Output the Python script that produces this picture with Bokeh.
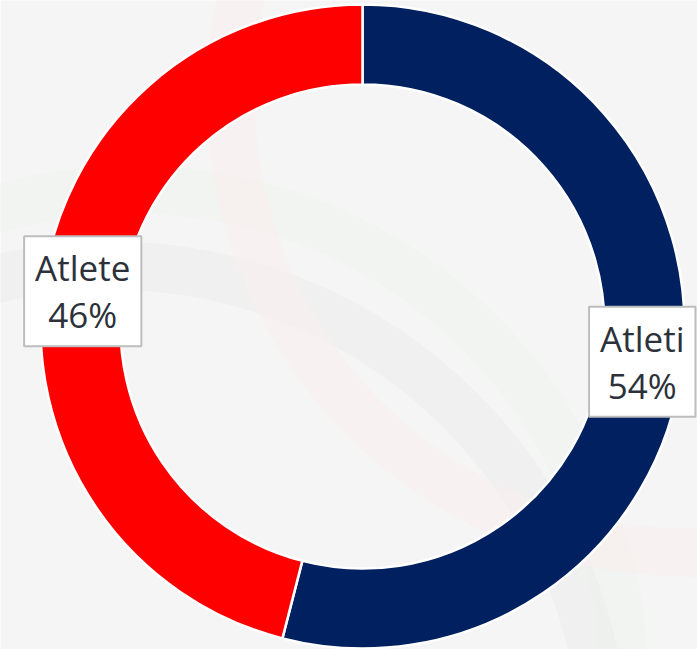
import math
from bokeh.plotting import figure
from bokeh.models import ColumnDataSource, Range1d
from bokeh.core.properties import value
from bokeh.embed import file_html
from bokeh.resources import INLINE

# ---- data ----
labels = ["Atleti", "Atlete"]
percents = [54, 46]
colors = ["#012060", "#FF0000"]

W, H = 697, 649
cx, cy = 362, 323          # centre in pixel-like data units (y up)
r_in, r_out = 242, 322

total = float(sum(percents))
starts, ends, mids = [], [], []
acc = 0.0
for v in percents:
    a0 = math.pi / 2 - 2 * math.pi * acc / total
    acc += v
    a1 = math.pi / 2 - 2 * math.pi * acc / total
    starts.append(a0)
    ends.append(a1)
    mids.append((a0 + a1) / 2)

r_mid = (r_in + r_out) / 2
src = ColumnDataSource(dict(
    start=starts, end=ends, color=colors,
    lx=[cx + r_mid * math.cos(m) for m in mids],
    ly=[cy + r_mid * math.sin(m) for m in mids],
    text=[f"{l}\n{v}%" for l, v in zip(labels, percents)],
))

p = figure(width=W, height=H, output_backend="svg", toolbar_location=None,
           x_range=Range1d(0, W), y_range=Range1d(0, H),
           min_border=0, background_fill_color="#f5f5f5",
           border_fill_color="#f5f5f5", outline_line_color=None)
p.axis.visible = False
p.grid.visible = False

# faint watermark rings in the background (decorative)
wm_x = [133, 110, 687]
wm_y = [H - 679, H - 760, H - 95]
wm_r = [490, 495, 457]
wm_c = ["#eef3ee", "#ececec", "#fbeeee"]
p.annulus(x=wm_x, y=wm_y, inner_radius=[rr - 24 for rr in wm_r],
          outer_radius=[rr + 24 for rr in wm_r], fill_color=wm_c,
          fill_alpha=0.5, line_color=None)

p.annular_wedge(x=cx, y=cy, inner_radius=r_in, outer_radius=r_out,
                start_angle="start", end_angle="end", direction="clock",
                fill_color="color", line_color="white", line_width=2.5,
                source=src)

p.text(x="lx", y="ly", text="text", source=src,
       text_font=value("Open Sans"), text_font_size="35px",
       text_color="#2c313a", text_align="center", text_baseline="middle",
       text_line_height=1.0,
       background_fill_color="white", border_line_color="#bdbdbd",
       border_line_width=2, padding=(11, 8))

open("out.html", "w").write(file_html(p, INLINE))
